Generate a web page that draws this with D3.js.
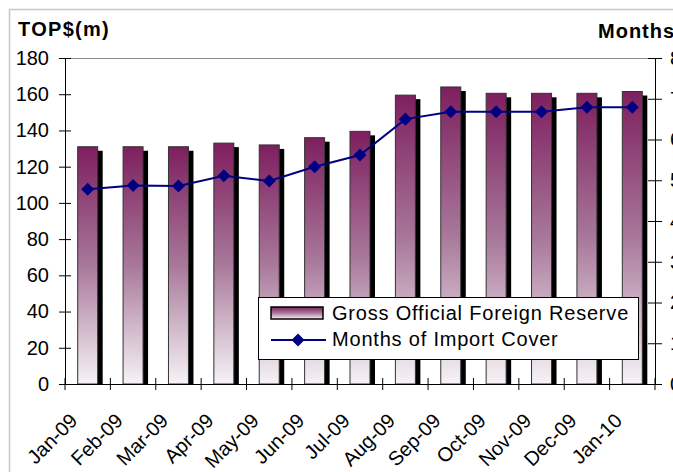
<!DOCTYPE html>
<html>
<head>
<meta charset="utf-8">
<script src="https://cdn.jsdelivr.net/npm/d3@7/dist/d3.min.js"></script>
<style>
  body { margin: 0; background: #fff; }
  svg { display: block; font-family: "Liberation Sans", Arial, sans-serif; }
</style>
</head>
<body>
<div id="chart"></div>
<script>
// data
var months = ['Jan-09', 'Feb-09', 'Mar-09', 'Apr-09', 'May-09', 'Jun-09', 'Jul-09',
              'Aug-09', 'Sep-09', 'Oct-09', 'Nov-09', 'Dec-09', 'Jan-10'];
var reserves = [131, 131, 131, 133, 132, 136, 139.5, 159.5, 164, 160.5, 160.5, 160.5, 161.5];
var importCover = [4.78, 4.87, 4.86, 5.11, 4.98, 5.33, 5.62, 6.5, 6.68, 6.68, 6.68, 6.79, 6.79];
var leftTicks = [0, 20, 40, 60, 80, 100, 120, 140, 160, 180];
var rightTicks = [0, 1, 2, 3, 4, 5, 6, 7, 8];

var chartW = 673, chartH = 472;
var plotL = 65, plotR = 655, plotT = 58, plotB = 384;
var fontFam = '"Liberation Sans", Arial, sans-serif';

var svg = d3.select('#chart').append('svg')
    .attr('width', chartW)
    .attr('height', chartH);

var defs = svg.append('defs');
var grad = defs.append('linearGradient')
    .attr('id', 'barGrad')
    .attr('x1', 0).attr('y1', 0).attr('x2', 0).attr('y2', 1);
grad.append('stop').attr('offset', '0%').attr('stop-color', '#7e1f5f');
grad.append('stop').attr('offset', '50%').attr('stop-color', '#a8789a');
grad.append('stop').attr('offset', '100%').attr('stop-color', '#f6f3f6');

defs.append('clipPath').attr('id', 'plotClip')
    .append('rect')
    .attr('x', plotL).attr('y', plotT)
    .attr('width', plotR - plotL).attr('height', plotB - plotT);

// outer frame
svg.append('rect')
    .attr('x', 9.5).attr('y', 9.5)
    .attr('width', 700).attr('height', 500)
    .attr('fill', 'none')
    .attr('stroke', '#c8c8c8')
    .attr('stroke-width', 1.5);

var x = d3.scaleBand()
    .domain(months)
    .range([plotL, plotR]);

var y = d3.scaleLinear()
    .domain([0, 180])
    .range([plotB, plotT]);

var y2 = d3.scaleLinear()
    .domain([0, 8])
    .range([plotB, plotT]);

var barW = 20;

// plot top border
svg.append('line')
    .attr('x1', plotL).attr('x2', plotR)
    .attr('y1', plotT + 0.5).attr('y2', plotT + 0.5)
    .attr('stroke', '#8a8a8a');

var bars = svg.append('g').attr('clip-path', 'url(#plotClip)');

// shadows
bars.selectAll('rect.shadow')
    .data(reserves)
    .enter()
    .append('rect')
    .attr('class', 'shadow')
    .attr('x', function(d, i) { return x(months[i]) + x.bandwidth() / 2 - barW / 2 + 5; })
    .attr('y', function(d) { return y(d) + 4; })
    .attr('width', barW)
    .attr('height', function(d) { return plotB - y(d); })
    .attr('fill', '#000');

bars.selectAll('rect.bar')
    .data(reserves)
    .enter()
    .append('rect')
    .attr('class', 'bar')
    .attr('x', function(d, i) { return x(months[i]) + x.bandwidth() / 2 - barW / 2; })
    .attr('y', function(d) { return y(d); })
    .attr('width', barW)
    .attr('height', function(d) { return plotB - y(d); })
    .attr('fill', 'url(#barGrad)')
    .attr('stroke', '#333')
    .attr('stroke-width', 1);

// left axis
var yAxis = d3.axisLeft(y)
    .tickValues(leftTicks)
    .tickSizeInner(6)
    .tickSizeOuter(0)
    .tickPadding(10);

var gy = svg.append('g')
    .attr('transform', 'translate(' + plotL + ',0)')
    .call(yAxis);
gy.selectAll('.tick line').attr('x2', 6).attr('x1', -6);
gy.selectAll('text').attr('font-size', 20).attr('fill', '#000')
    .attr('font-family', fontFam);

// right axis (labels run off the edge like the original)
var y2Axis = d3.axisRight(y2)
    .tickValues(rightTicks)
    .tickSizeOuter(0)
    .tickPadding(9);

var gy2 = svg.append('g')
    .attr('transform', 'translate(' + plotR + ',0)')
    .call(y2Axis);
gy2.selectAll('.tick line').attr('x1', -7).attr('x2', 7);
gy2.selectAll('text').attr('font-size', 20).attr('fill', '#000')
    .attr('font-family', fontFam);

// x axis
var xAxis = d3.axisBottom(x).tickSize(0).tickSizeOuter(0);
var gx = svg.append('g')
    .attr('transform', 'translate(0,' + plotB + ')')
    .call(xAxis);
gx.selectAll('text')
    .attr('font-size', 20)
    .attr('fill', '#000')
    .attr('font-family', fontFam)
    .attr('text-anchor', 'end')
    .attr('dy', 0)
    .attr('y', 0)
    .attr('transform', 'translate(-9,38) rotate(-45)');

// category boundary ticks
var bounds = months.map(function(m) { return x(m); }).concat([plotR]);
svg.append('g').selectAll('line')
    .data(bounds)
    .enter()
    .append('line')
    .attr('x1', function(d) { return d; })
    .attr('x2', function(d) { return d; })
    .attr('y1', plotB - 6)
    .attr('y2', plotB + 6)
    .attr('stroke', '#000');

svg.selectAll('.domain').attr('stroke', '#000');

// import cover line
var line = d3.line()
    .x(function(d, i) { return x(months[i]) + x.bandwidth() / 2; })
    .y(function(d) { return y2(d); });

svg.append('path')
    .datum(importCover)
    .attr('d', line)
    .attr('fill', 'none')
    .attr('stroke', '#000080')
    .attr('stroke-width', 2);

var diamond = d3.symbol().type(d3.symbolSquare).size(85);
svg.selectAll('path.pt')
    .data(importCover)
    .enter()
    .append('path')
    .attr('class', 'pt')
    .attr('d', diamond)
    .attr('transform', function(d, i) {
        return 'translate(' + (x(months[i]) + x.bandwidth() / 2) + ',' + y2(d) + ') rotate(45)';
    })
    .attr('fill', '#000080');

// titles
svg.append('text')
    .attr('x', 18).attr('y', 36)
    .attr('font-size', 20)
    .attr('font-weight', 'bold')
    .attr('letter-spacing', 1.3)
    .text('TOP$(m)');

svg.append('text')
    .attr('x', 598).attr('y', 38)
    .attr('font-size', 20)
    .attr('font-weight', 'bold')
    .attr('letter-spacing', 1)
    .text('Months of Import Cover');

// legend
var lg = svg.append('g');
lg.append('rect')
    .attr('x', 258.5).attr('y', 297.5)
    .attr('width', 380).attr('height', 62)
    .attr('fill', '#fff')
    .attr('stroke', '#000');
lg.append('rect')
    .attr('x', 271).attr('y', 307)
    .attr('width', 52).attr('height', 12)
    .attr('fill', 'url(#barGrad)')
    .attr('stroke', '#000')
    .attr('stroke-width', 1.5);
lg.append('line')
    .attr('x1', 271).attr('x2', 326)
    .attr('y1', 340).attr('y2', 340)
    .attr('stroke', '#000080')
    .attr('stroke-width', 2);
lg.append('path')
    .attr('d', diamond)
    .attr('transform', 'translate(298,340) rotate(45)')
    .attr('fill', '#000080');
lg.append('text')
    .attr('x', 332).attr('y', 320)
    .attr('font-size', 20)
    .attr('letter-spacing', 0.8)
    .text('Gross Official Foreign Reserve');
lg.append('text')
    .attr('x', 332).attr('y', 346)
    .attr('font-size', 20)
    .attr('letter-spacing', 0.8)
    .text('Months of Import Cover');
</script>
</body>
</html>
